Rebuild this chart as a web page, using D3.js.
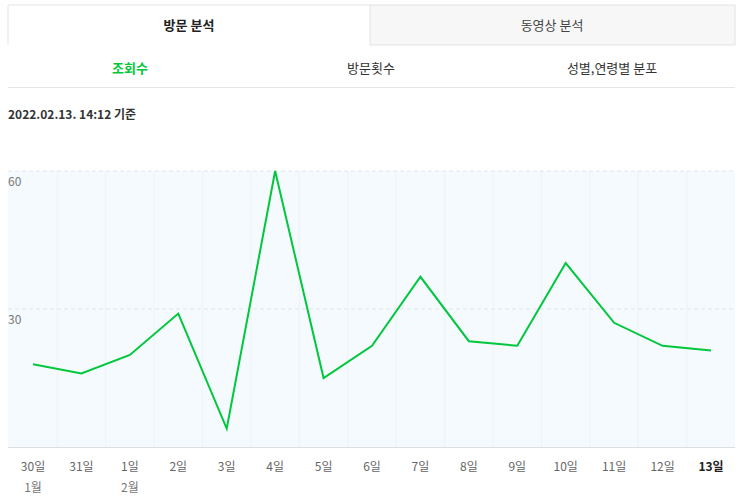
<!DOCTYPE html>
<html><head><meta charset="utf-8">
<script src="https://cdn.jsdelivr.net/npm/d3@7"></script>
<style>body{margin:0;background:#fff;font-family:"Noto Sans CJK KR","Noto Sans",sans-serif;}</style>
</head><body><svg width="743" height="503"></svg>
<script>
const days = ["30일","31일","1일","2일","3일","4일","5일","6일","7일","8일","9일","10일","11일","12일","13일"];
const months = {"30일":"1월","1일":"2월"};
const views = [18,16,20,29,4,60,15,22,37,23,22,40,27,22,21];
const yTicks = [30,60];

const svg = d3.select("svg");
const font = "Noto Sans CJK KR";

// tabs
svg.append("rect").attr("x",370).attr("y",5).attr("width",365).attr("height",40).attr("fill","#f7f7f7").attr("stroke","#e3e3e3");
svg.append("path").attr("d","M8,45V5H370").attr("fill","none").attr("stroke","#e3e3e3");
svg.append("text").attr("x",189).attr("y",30).attr("text-anchor","middle").attr("font-family",font).attr("font-size",13).attr("font-weight","bold").attr("fill","#222").text("방문 분석");
svg.append("text").attr("x",552).attr("y",30).attr("text-anchor","middle").attr("font-family",font).attr("font-size",13).attr("fill","#444").text("동영상 분석");

const sub = [["조회수",130,"#00c73c","bold"],["방문횟수",371,"#333","normal"],["성별,연령별 분포",612,"#333","normal"]];
sub.forEach(s => svg.append("text").attr("x",s[1]).attr("y",73).attr("text-anchor","middle").attr("font-family",font).attr("font-size",13).attr("font-weight",s[3]).attr("fill",s[2]).text(s[0]));
svg.append("line").attr("x1",8).attr("x2",735).attr("y1",87.5).attr("y2",87.5).attr("stroke","#e5e5e5");

svg.append("text").attr("x",8).attr("y",119).attr("font-family",font).attr("font-size",12).attr("font-weight","bold").attr("fill","#333").text("2022.02.13. 14:12 기준");

// chart
const x = d3.scalePoint().domain(days).range([33,711]);
const y = d3.scaleLinear().domain([0,60]).range([447,171]);
const step = x.step();

svg.append("rect").attr("x",8).attr("y",y(60)).attr("width",727).attr("height",y(0)-y(60)).attr("fill","#f5faff");
svg.append("g").selectAll("line").data(days.slice(1)).join("line")
  .attr("x1",d=>x(d)-step/2).attr("x2",d=>x(d)-step/2).attr("y1",y(60)).attr("y2",y(0))
  .attr("stroke","#edf3f9");
svg.append("g").selectAll("line").data(yTicks).join("line")
  .attr("x1",8).attr("x2",735).attr("y1",d=>y(d)).attr("y2",d=>y(d))
  .attr("stroke","#dfe6ee").attr("stroke-dasharray","4,3");
svg.append("g").selectAll("text").data(yTicks).join("text")
  .attr("x",8).attr("y",d=>y(d)+15).attr("font-family",font).attr("font-size",12).attr("fill","#777").text(d=>d);
svg.append("line").attr("x1",8).attr("x2",735).attr("y1",y(0)+0.5).attr("y2",y(0)+0.5).attr("stroke","#ddd");

svg.append("path").datum(views)
  .attr("d",d3.line().x((d,i)=>x(days[i])).y(d=>y(d)))
  .attr("fill","none").attr("stroke","#00c73c").attr("stroke-width",2);

svg.append("g").selectAll("text").data(days).join("text")
  .attr("x",d=>x(d)).attr("y",471).attr("text-anchor","middle").attr("font-family",font).attr("font-size",12)
  .attr("font-weight",(d,i)=>i===days.length-1?"bold":"normal").attr("fill",(d,i)=>i===days.length-1?"#222":"#666").text(d=>d);
svg.append("g").selectAll("text").data(Object.keys(months)).join("text")
  .attr("x",d=>x(d)).attr("y",492).attr("text-anchor","middle").attr("font-family",font).attr("font-size",12).attr("fill","#777").text(d=>months[d]);
</script></body></html>
